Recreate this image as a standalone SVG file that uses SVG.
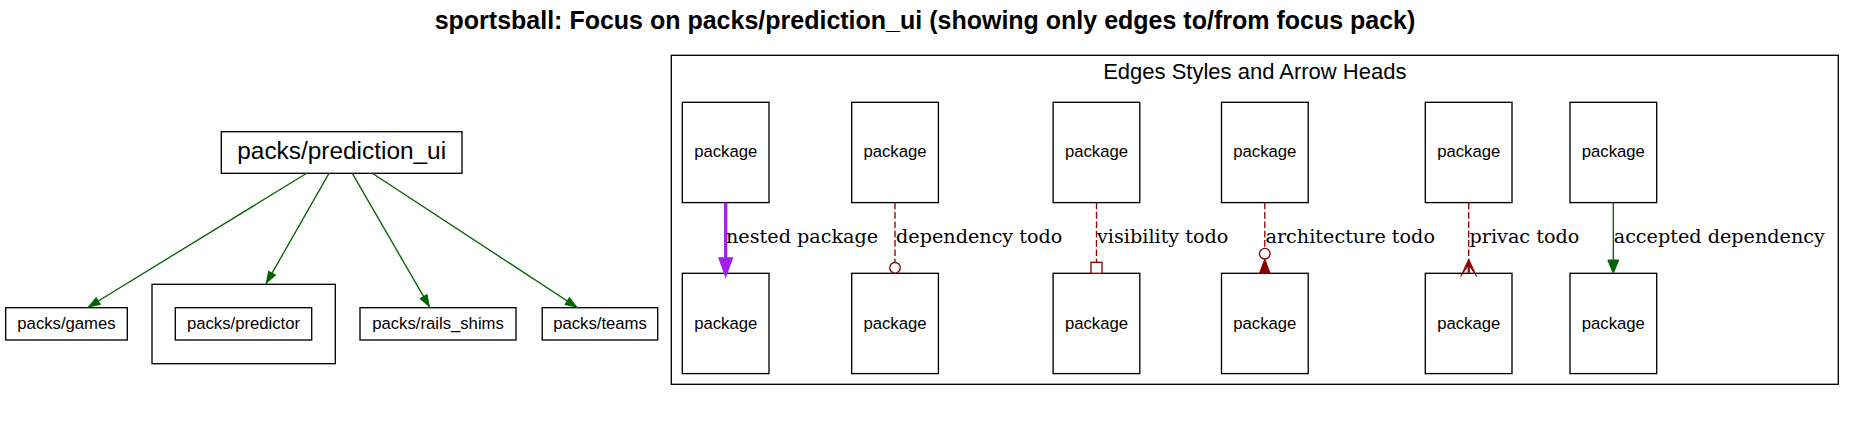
<svg xmlns="http://www.w3.org/2000/svg" width="1855" height="431" viewBox="0 0 1855 431">
<style>
.bg{fill:#ffffff}
.box{fill:none;stroke:#000000;stroke-width:1.33}
.sans{font-family:"Liberation Sans",Arial,sans-serif;fill:#000000;text-anchor:middle}
.pkg{font-size:16.7px}
.lbl{font-family:"DejaVu Serif","Liberation Serif",serif;font-size:19.2px;fill:#000000}
.green{fill:none;stroke:#006400;stroke-width:1.33}
.red{fill:none;stroke:#8b0000;stroke-width:1.33;stroke-dasharray:6.67,2.67}
.redhead{fill:#ffffff;stroke:#8b0000;stroke-width:1.33}
</style>
<defs>
<marker id="ahGreen" markerUnits="userSpaceOnUse" markerWidth="16" markerHeight="12" viewBox="0 -6 14 12" refX="13.3" refY="0" orient="auto">
<path d="M0,-4.7 L13.3,0 L0,4.7 Z" fill="#006400" stroke="none"/>
</marker>
</defs>
<rect class="bg" x="0" y="0" width="1855" height="431"/>
<text x="925" y="29" class="sans" font-size="25" font-weight="bold">sportsball: Focus on packs/prediction_ui (showing only edges to/from focus pack)</text>

<g id="node-prediction_ui">
<rect class="box" x="221.3" y="131.7" width="240.7" height="41.6"/>
<text class="sans" x="341.7" y="159.3" font-size="24.4">packs/prediction_ui</text>
</g>
<g id="node-games">
<rect class="box" x="5.7" y="307.7" width="121.6" height="32.3"/>
<text class="sans pkg" x="66.5" y="329.3">packs/games</text>
</g>
<g id="cluster-predictor">
<rect class="box" x="152" y="284.3" width="183.3" height="79.4"/>
<g id="node-predictor">
<rect class="box" x="175.3" y="307.7" width="136.4" height="32.3"/>
<text class="sans pkg" x="243.5" y="329.3">packs/predictor</text>
</g>
</g>
<g id="node-rails_shims">
<rect class="box" x="360" y="307.7" width="156" height="32.3"/>
<text class="sans pkg" x="438" y="329.3">packs/rails_shims</text>
</g>
<g id="node-teams">
<rect class="box" x="542.2" y="307.7" width="115.5" height="32.3"/>
<text class="sans pkg" x="600" y="329.3">packs/teams</text>
</g>

<g id="cluster-legend">
<rect class="box" x="671.3" y="55.3" width="1167" height="329"/>
<text class="sans" x="1254.8" y="79" font-size="22">Edges Styles and Arrow Heads</text>
</g>
<g id="legend-nodes">
<g id="pkg-a1"><rect class="box" x="682.3" y="102.3" width="86.7" height="100.3"/><text class="sans pkg" x="725.7" y="157.3">package</text></g>
<g id="pkg-a2"><rect class="box" x="682.3" y="273.3" width="86.7" height="100.3"/><text class="sans pkg" x="725.7" y="328.5">package</text></g>
<g id="pkg-b1"><rect class="box" x="851.7" y="102.3" width="86.7" height="100.3"/><text class="sans pkg" x="895" y="157.3">package</text></g>
<g id="pkg-b2"><rect class="box" x="851.7" y="273.3" width="86.7" height="100.3"/><text class="sans pkg" x="895" y="328.5">package</text></g>
<g id="pkg-c1"><rect class="box" x="1053.1" y="102.3" width="86.7" height="100.3"/><text class="sans pkg" x="1096.5" y="157.3">package</text></g>
<g id="pkg-c2"><rect class="box" x="1053.1" y="273.3" width="86.7" height="100.3"/><text class="sans pkg" x="1096.5" y="328.5">package</text></g>
<g id="pkg-d1"><rect class="box" x="1221.5" y="102.3" width="86.7" height="100.3"/><text class="sans pkg" x="1264.8" y="157.3">package</text></g>
<g id="pkg-d2"><rect class="box" x="1221.5" y="273.3" width="86.7" height="100.3"/><text class="sans pkg" x="1264.8" y="328.5">package</text></g>
<g id="pkg-e1"><rect class="box" x="1425.3" y="102.3" width="86.7" height="100.3"/><text class="sans pkg" x="1468.7" y="157.3">package</text></g>
<g id="pkg-e2"><rect class="box" x="1425.3" y="273.3" width="86.7" height="100.3"/><text class="sans pkg" x="1468.7" y="328.5">package</text></g>
<g id="pkg-f1"><rect class="box" x="1570" y="102.3" width="86.7" height="100.3"/><text class="sans pkg" x="1613.3" y="157.3">package</text></g>
<g id="pkg-f2"><rect class="box" x="1570" y="273.3" width="86.7" height="100.3"/><text class="sans pkg" x="1613.3" y="328.5">package</text></g>
</g>

<g id="connectors">
<path class="green" d="M306.7,173.3 L87.3,307.7" marker-end="url(#ahGreen)"/>
<path class="green" d="M329,173.3 L265.7,284.3" marker-end="url(#ahGreen)"/>
<path class="green" d="M352.3,173.3 L430,307.7" marker-end="url(#ahGreen)"/>
<path class="green" d="M372.3,173.3 L578,308" marker-end="url(#ahGreen)"/>

<path d="M725.7,202.7 L725.7,258" fill="none" stroke="#a020f0" stroke-width="3.3"/>
<polygon points="718,257.3 733.4,257.3 725.7,278.5" fill="#a020f0"/>
<text class="lbl" x="726" y="242.7">nested package</text>

<path class="red" d="M895,202.7 L895,262.4"/>
<circle class="redhead" cx="895" cy="267.8" r="5.3"/>
<text class="lbl" x="896" y="242.7">dependency todo</text>

<path class="red" d="M1096.5,202.7 L1096.5,262.3"/>
<rect class="redhead" x="1091" y="262.3" width="11" height="11"/>
<text class="lbl" x="1097" y="242.7">visibility todo</text>

<path class="red" d="M1264.8,202.7 L1264.8,248.4"/>
<circle class="redhead" cx="1264.8" cy="253.7" r="5.3" fill="none"/>
<polygon points="1264.8,259 1270.1,273.3 1259.5,273.3" fill="#8b0000" stroke="#8b0000" stroke-width="1"/>
<text class="lbl" x="1265.5" y="242.7">architecture todo</text>

<path class="red" d="M1468.7,202.7 L1468.7,262"/>
<polygon points="1468.7,259 1476.7,276.5 1469.4,266 1469.4,273.3 1468,273.3 1468,266 1460.7,276.5" fill="#8b0000" stroke="#8b0000" stroke-width="0.8" stroke-linejoin="round"/>
<text class="lbl" x="1469.5" y="242.7">privac todo</text>

<path class="green" d="M1613.3,202.7 L1613.3,260"/>
<polygon points="1607.8,260 1618.8,260 1613.3,273.3" fill="#006400" stroke="#006400" stroke-width="1"/>
<text class="lbl" x="1613.7" y="242.7">accepted dependency</text>
</g>
</svg>
